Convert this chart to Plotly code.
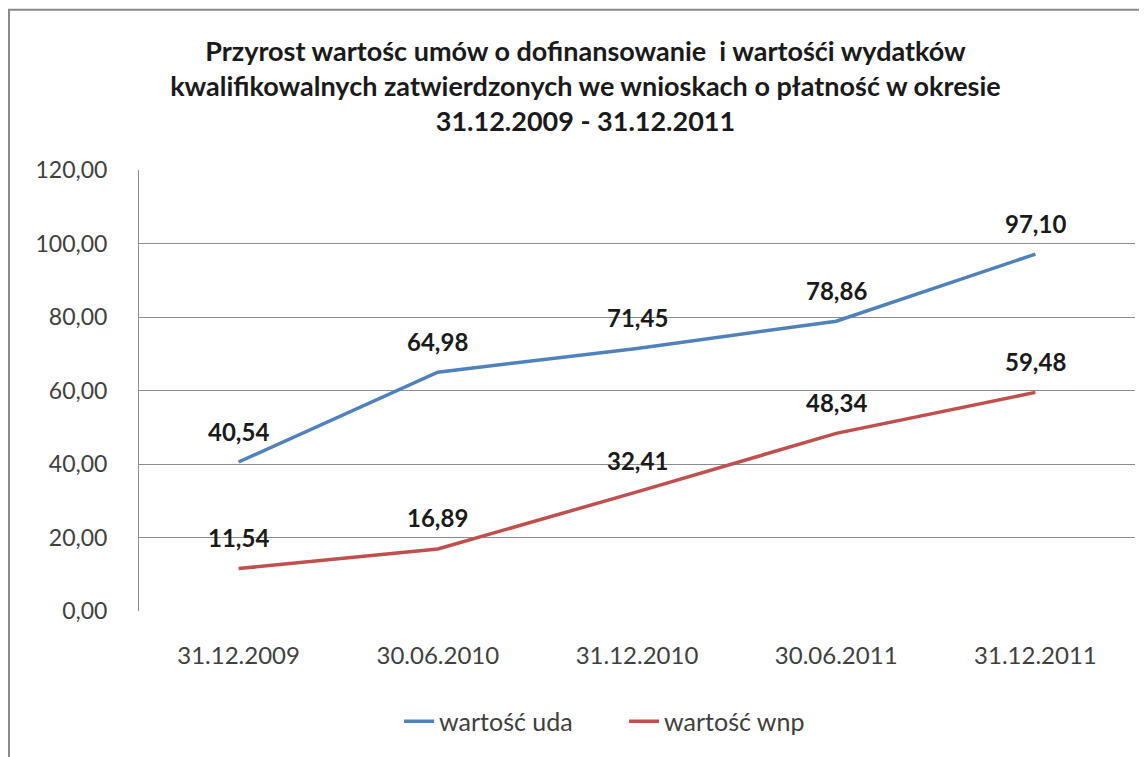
import plotly.graph_objects as go

# Data
dates = ['31.12.2009', '30.06.2010', '31.12.2010', '30.06.2011', '31.12.2011']
uda_values = [40.54, 64.98, 71.45, 78.86, 97.10]
wnp_values = [11.54, 16.89, 32.41, 48.34, 59.48]
series_names = ['wartość uda', 'wartość wnp']
y_ticks = [0, 20, 40, 60, 80, 100, 120]

FONT = 'Lato, Open Sans, sans-serif'
BLUE = '#4F81BD'
RED = '#C0504D'


def fmt(v):
    return f'{v:.2f}'.replace('.', ',')


fig = go.Figure()

for name, values, color in [(series_names[0], uda_values, BLUE),
                            (series_names[1], wnp_values, RED)]:
    fig.add_trace(go.Scatter(
        x=dates,
        y=values,
        mode='lines',
        name=name,
        line=dict(color=color, width=3.5),
    ))

# Data labels above the points
annotations = []
for values in (uda_values, wnp_values):
    for d, v in zip(dates, values):
        annotations.append(dict(
            x=d, y=v, xref='x', yref='y',
            text=f'<b>{fmt(v)}</b>',
            showarrow=False,
            yshift=31,
            font=dict(family=FONT, size=24, color='#1a1a1a'),
        ))

# the page body adds an 8px offset, so the figure is 8px smaller
fig.update_layout(
    title=dict(
        text='<b>Przyrost wartośc umów o dofinansowanie  i wartośći wydatków<br>'
             'kwalifikowalnych zatwierdzonych we wnioskach o płatność w okresie<br>'
             '31.12.2009 - 31.12.2011</b>',
        x=0.507, xanchor='center',
        y=0.929, yanchor='top',
        font=dict(family=FONT, size=27, color='#1a1a1a'),
    ),
    width=1139,
    height=749,
    margin=dict(l=131, r=12, t=162, b=144),
    paper_bgcolor='white',
    plot_bgcolor='white',
    separators=', ',
    showlegend=True,
    legend=dict(
        orientation='h',
        x=0.487, xanchor='center',
        y=-0.2506, yanchor='middle',
        font=dict(family=FONT, size=25, color='#404040'),
        entrywidth=180,
        entrywidthmode='pixels',
        tracegroupgap=0,
    ),
    annotations=annotations,
    shapes=[dict(
        type='rect', xref='paper', yref='paper',
        x0=-0.1305, x1=1.05, y0=-0.5, y1=1.3634,
        line=dict(color='#8a8a8a', width=2),
        fillcolor='rgba(0,0,0,0)',
    )],
)

fig.update_xaxes(
    type='category',
    range=[-0.5, 4.5],
    showgrid=False,
    showline=False,
    zeroline=False,
    ticks='',
    automargin=False,
    ticklabelstandoff=28,
    tickfont=dict(family=FONT, size=24, color='#404040'),
)

fig.update_yaxes(
    range=[0, 120],
    tickvals=y_ticks,
    tickformat='.2f',
    showgrid=True,
    gridcolor='#8c8c8c',
    gridwidth=1,
    showline=True,
    linecolor='#8c8c8c',
    linewidth=1,
    zeroline=False,
    ticks='',
    automargin=False,
    ticklabelstandoff=26,
    tickfont=dict(family=FONT, size=23, color='#404040'),
)

fig.write_html('out.html')
